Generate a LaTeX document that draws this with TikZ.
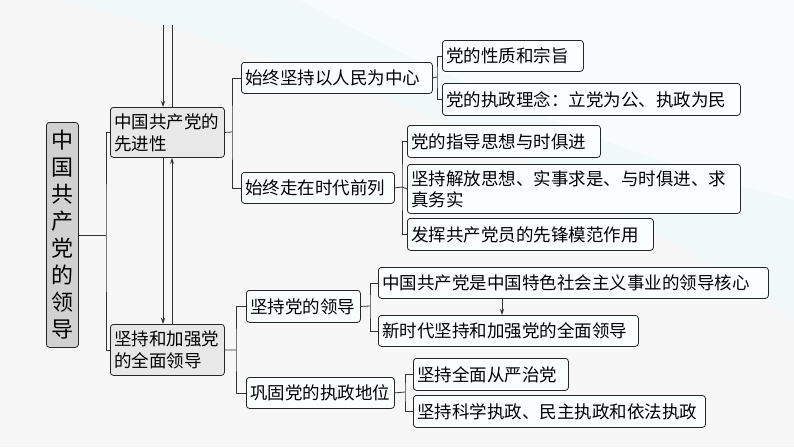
\documentclass[tikz,border=0pt]{standalone}
\usepackage{fontspec}
\newfontfamily\cjk{Noto Sans CJK SC}
\usetikzlibrary{arrows.meta}
\begin{document}
\begin{tikzpicture}[x=1pt,y=-1pt,
  box/.style={draw=black!85,line width=0.8pt,rounded corners=3pt,fill=white!60!cyan!4,anchor=north west,inner sep=0pt,font=\cjk\fontsize{17.5}{22}\selectfont,align=left},
  lvl1/.style={box,fill=black!9},
  line/.style={draw=black!80,line width=0.8pt},
  arr/.style={line,-{Stealth[length=6pt,width=4pt]}}]
\fill[black!3] (0,0) rectangle (794,447);
\fill[cyan!6,opacity=0.7] (60,0) .. controls (300,60) and (500,120) .. (794,320) -- (794,0) -- cycle;
\fill[white,opacity=0.5] (300,0) .. controls (450,80) and (600,150) .. (794,200) -- (794,0) -- cycle;
% root
\node[box,fill=black!18,minimum width=32pt,minimum height=225pt,align=center,font=\cjk\fontsize{22}{27}\selectfont] (root) at (46,122) {中\\国\\共\\产\\党\\的\\领\\导};
% level1
\node[lvl1,minimum width=114pt,minimum height=50pt,text width=106pt,inner xsep=4pt] (b1) at (110,107) {中国共产党的\\先进性};
\node[lvl1,minimum width=114pt,minimum height=51pt,text width=106pt,inner xsep=4pt] (b2) at (110,324) {坚持和加强党\\的全面领导};
% level2
\node[box,minimum width=191pt,minimum height=31pt,text width=183pt,inner xsep=4pt] (c1) at (241,62) {始终坚持以人民为中心};
\node[box,minimum width=153pt,minimum height=31pt,text width=145pt,inner xsep=4pt] (c2) at (241,172) {始终走在时代前列};
\node[box,minimum width=114pt,minimum height=32pt,text width=106pt,inner xsep=4pt] (c3) at (246,290) {坚持党的领导};
\node[box,minimum width=148pt,minimum height=31pt,text width=140pt,inner xsep=4pt] (c4) at (246,377) {巩固党的执政地位};
% level3
\node[box,minimum width=141pt,minimum height=31pt,text width=133pt,inner xsep=4pt] (d1) at (442,40) {党的性质和宗旨};
\node[box,minimum width=298pt,minimum height=32pt,text width=290pt,inner xsep=4pt] (d2) at (442,83) {党的执政理念：立党为公、执政为民};
\node[box,minimum width=193pt,minimum height=32pt,text width=185pt,inner xsep=4pt] (d3) at (407,125) {党的指导思想与时俱进};
\node[box,minimum width=333pt,minimum height=49pt,text width=325pt,inner xsep=4pt,font=\cjk\fontsize{17.5}{21}\selectfont] (d4) at (407,164) {坚持解放思想、实事求是、与时俱进、求\\真务实};
\node[box,minimum width=246pt,minimum height=32pt,text width=238pt,inner xsep=4pt] (d5) at (407,218) {发挥共产党员的先锋模范作用};
\node[box,minimum width=390pt,minimum height=31pt,text width=382pt,inner xsep=4pt] (e1) at (378,267) {中国共产党是中国特色社会主义事业的领导核心};
\node[box,minimum width=260pt,minimum height=31pt,text width=252pt,inner xsep=4pt] (e2) at (378,315) {新时代坚持和加强党的全面领导};
\node[box,minimum width=155pt,minimum height=32pt,text width=147pt,inner xsep=4pt] (f1) at (413,358) {坚持全面从严治党};
\node[box,minimum width=292pt,minimum height=32pt,text width=284pt,inner xsep=4pt] (f2) at (413,395) {坚持科学执政、民主执政和依法执政};
% junctions
\coordinate (j0) at (root.east -| 106,0);
\coordinate (j1) at (232,132);
\coordinate (j2) at (236,350);
\coordinate (j3) at (437,77);
\coordinate (j4) at (402,187);
\coordinate (j5) at (370,306);
\coordinate (j6) at (405,392);
\draw[line] (root.east) -- (j0);
\draw[line] (b1.west) -| (j0) |- (b2.west);
\draw[line] (b1.east) -- (j1);
\draw[line] (c1.west) -| (j1) |- (c2.west);
\draw[line] (b2.east) -- (j2);
\draw[line] (c3.west) -| (j2) |- (c4.west);
\draw[line] (c1.east) -- (j3);
\draw[line] (d1.west) -| (j3) |- (d2.west);
\draw[line] (c2.east) -- (j4);
\draw[line] (d3.west) -| (j4) |- (d5.west);
\draw[line] (j4) -- (d4.west);
\draw[line] (c3.east) -- (j5);
\draw[line] (e1.west) -| (j5) |- (e2.west);
\draw[line] (c4.east) -- (j6);
\draw[line] (f1.west) -| (j6) |- (f2.west);
% vertical arrows
\coordinate (t1) at (163,25);
\coordinate (t2) at (172,25);
\draw[arr] (t1) -- (t1 |- b1.north);
\draw[line] (t2) -- (t2 |- b1.north);
\draw[arr] (t1 |- b1.south) -- (t1 |- b2.north);
\draw[arr] (t2 |- b2.north) -- (t2 |- b1.south);
\draw[arr] (e1.south -| 502,0) -- (e2.north -| 502,0);
\end{tikzpicture}
\end{document}
